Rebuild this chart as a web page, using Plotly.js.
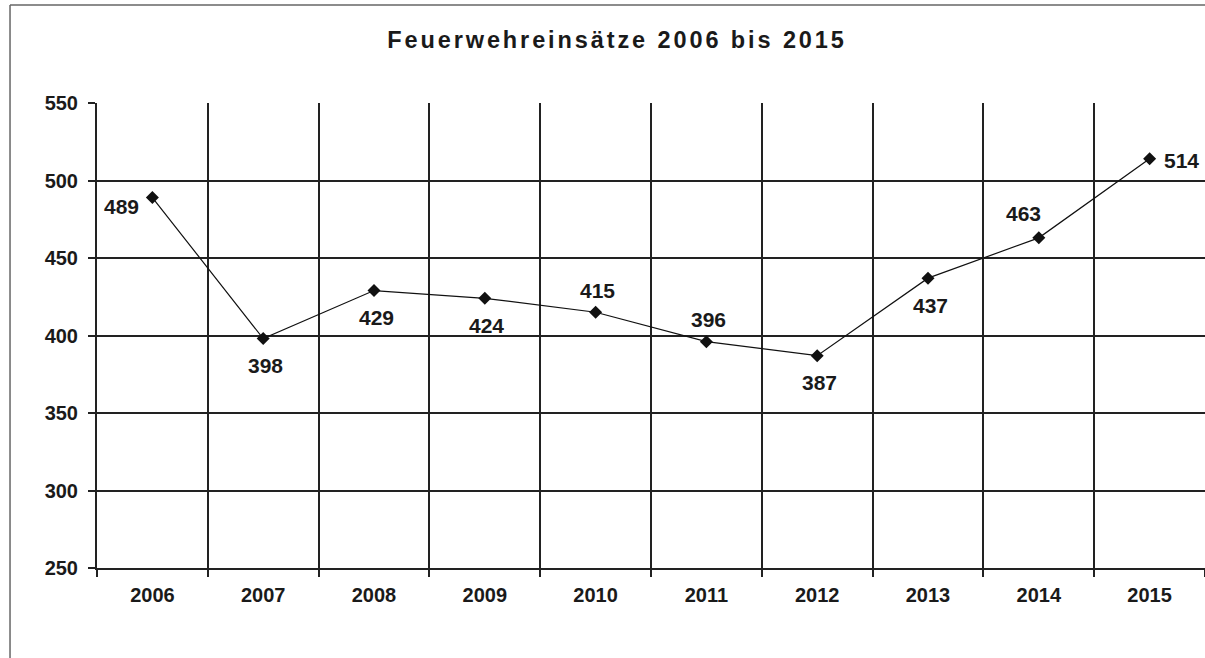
<!DOCTYPE html>
<html>
<head>
<meta charset="utf-8">
<script src="https://cdn.plot.ly/plotly-3.0.1.min.js"></script>
<style>
html,body{margin:0;padding:0;background:#fff;}
#chart{width:1205px;height:658px;}
#chart .gtitle{letter-spacing:2.9px;}
</style>
</head>
<body>
<div id="chart"></div>
<script>
var years = ['2006','2007','2008','2009','2010','2011','2012','2013','2014','2015'];
var einsaetze = [489, 398, 429, 424, 415, 396, 387, 437, 463, 514];
var labelPos = ['left','below','below','below','above','above','below','below','aboveleft','right'];
var yTicks = [250, 300, 350, 400, 450, 500, 550];

var font = 'Liberation Sans, Arial, sans-serif';
var ink = '#1a1a1a';

var trace = {
  type: 'scatter',
  mode: 'lines+markers',
  x: years,
  y: einsaetze,
  line: {color: '#111', width: 1.2},
  marker: {symbol: 'diamond', size: 10, color: '#111'},
  hoverinfo: 'x+y',
  showlegend: false
};

var shiftMap = {
  left:      {xanchor: 'right',  xshift: -11, yshift: -9},
  below:     {xanchor: 'center', xshift: 2,   yshift: -27},
  above:     {xanchor: 'center', xshift: 2,   yshift: 22},
  aboveleft: {xanchor: 'center', xshift: -15, yshift: 24},
  right:     {xanchor: 'left',   xshift: 12,  yshift: -2}
};

var annotations = years.map(function(yr, i) {
  var s = shiftMap[labelPos[i]];
  return {
    x: i, y: einsaetze[i], xref: 'x', yref: 'y',
    text: String(einsaetze[i]),
    showarrow: false,
    xanchor: s.xanchor, yanchor: 'middle',
    xshift: s.xshift, yshift: s.yshift,
    font: {family: font, size: 21, color: ink, weight: 700}
  };
});

var layout = {
  width: 1205,
  height: 658,
  paper_bgcolor: '#fff',
  plot_bgcolor: '#fff',
  margin: {l: 97, r: 0, t: 103, b: 90},
  title: {
    text: 'Feuerwehreinsätze 2006 bis 2015',
    font: {family: font, size: 23.5, color: ink, weight: 700},
    x: 617/1205, xref: 'container', xanchor: 'center',
    y: 1 - 40/658, yref: 'container', yanchor: 'middle'
  },
  xaxis: {
    type: 'category',
    tickson: 'boundaries',
    ticks: 'outside', ticklen: 7, tickcolor: '#222', tickwidth: 2,
    showgrid: true, gridcolor: '#222', gridwidth: 2,
    showline: true, linecolor: '#222', linewidth: 2,
    tickfont: {family: font, size: 20, color: ink, weight: 700},
    ticklabelstandoff: 8,
    range: [-0.5, 9.5],
    fixedrange: true
  },
  yaxis: {
    range: [250, 550],
    tickvals: yTicks,
    ticks: 'outside', ticklen: 7, tickcolor: '#222', tickwidth: 2,
    showgrid: true, gridcolor: '#222', gridwidth: 2,
    showline: true, linecolor: '#222', linewidth: 2,
    zeroline: false,
    tickfont: {family: font, size: 20, color: ink, weight: 700},
    ticklabelstandoff: 6,
    fixedrange: true
  },
  annotations: annotations,
  shapes: [
    {type: 'line', xref: 'paper', yref: 'y', x0: 0.002, x1: 1, y0: 550, y1: 550,
     line: {color: '#fff', width: 3}, layer: 'below'},
    {type: 'line', xref: 'paper', yref: 'paper', x0: -0.0785, x1: 1.01, y0: 1.2108, y1: 1.2108,
     line: {color: '#666', width: 1.5}},
    {type: 'line', xref: 'paper', yref: 'paper', x0: -0.0785, x1: -0.0785, y0: 1.2108, y1: -0.2,
     line: {color: '#666', width: 1.5}}
  ]
};

Plotly.newPlot('chart', [trace], layout, {displayModeBar: false, staticPlot: true});
</script>
</body>
</html>
